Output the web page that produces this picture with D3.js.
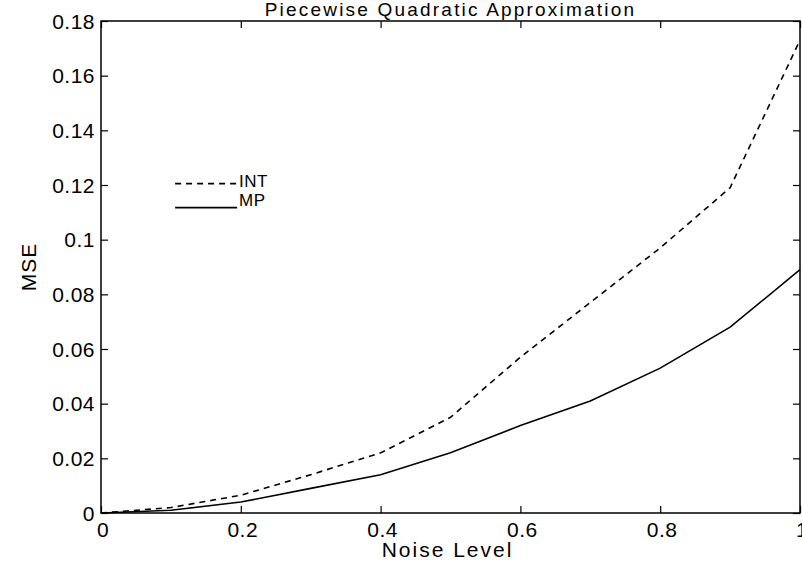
<!DOCTYPE html>
<html>
<head>
<meta charset="utf-8">
<script src="https://cdn.jsdelivr.net/npm/d3@7"></script>
<style>
    body { margin: 0; background: #fff; }
    svg { display: block; font-family: Arial, "Liberation Sans", sans-serif; }
    .frame { fill: none; stroke: #000; stroke-width: 1.5; }
    .tick-mark { stroke: #000; stroke-width: 1.2; }
    .line { fill: none; stroke: #000; stroke-width: 1.6; }
    .line.int { stroke-dasharray: 6 5; }
    text { fill: #000; }
</style>
</head>
<body>
<div id="chart"></div>
<script>
(function () {'use strict';

// Data
var noiseLevels = [0, 0.1, 0.2, 0.3, 0.4, 0.5, 0.6, 0.7, 0.8, 0.9, 1.0];
var mseInt      = [0, 0.002, 0.0065, 0.014, 0.022, 0.035, 0.057, 0.077, 0.097, 0.119, 0.173];
var mseMp       = [0, 0.001, 0.004, 0.009, 0.014, 0.022, 0.032, 0.041, 0.053, 0.068, 0.089];
var xTicks      = [0, 0.2, 0.4, 0.6, 0.8, 1];
var yTicks      = [0, 0.02, 0.04, 0.06, 0.08, 0.1, 0.12, 0.14, 0.16, 0.18];
var seriesNames = ['INT', 'MP'];

var W = 802, H = 570;
var margin = { top: 21, right: 2, bottom: 57, left: 101 },
    width  = W - margin.left - margin.right,
    height = H - margin.top - margin.bottom,
    tickLen = 7;

var x = d3.scaleLinear().domain([0, 1]).range([0, width]),
    y = d3.scaleLinear().domain([0, 0.18]).range([height, 0]);

var svg = d3.select('#chart')
    .append('svg')
        .attr('width', W)
        .attr('height', H);

var chart = svg.append('g')
    .attr('transform', 'translate(' + margin.left + ',' + margin.top + ')');

/*
 * FRAME + TICKS (inward, all four sides)
 */
chart.append('rect')
    .attr('class', 'frame')
    .attr('x', 0)
    .attr('y', 0)
    .attr('width', width)
    .attr('height', height);

chart.append('g')
    .attr('transform', 'translate(0,' + height + ')')
    .call(d3.axisBottom(x).tickValues(xTicks).tickSize(-tickLen).tickFormat(''))
    .call(cleanAxis);
chart.append('g')
    .call(d3.axisTop(x).tickValues(xTicks).tickSize(-tickLen).tickFormat(''))
    .call(cleanAxis);
chart.append('g')
    .call(d3.axisLeft(y).tickValues(yTicks).tickSize(-tickLen).tickFormat(''))
    .call(cleanAxis);
chart.append('g')
    .attr('transform', 'translate(' + width + ',0)')
    .call(d3.axisRight(y).tickValues(yTicks).tickSize(-tickLen).tickFormat(''))
    .call(cleanAxis);

function cleanAxis(g) {
    g.select('.domain').remove();
    g.selectAll('line').attr('class', 'tick-mark');
}

// tick labels
chart.selectAll('.xlabel')
    .data(xTicks)
    .enter().append('text')
        .attr('class', 'xlabel')
        .attr('x', function (d) { return x(d) + 2; })
        .attr('y', height + 24)
        .attr('text-anchor', 'middle')
        .style('font-size', '21px')
        .style('letter-spacing', '0.5px')
        .text(function (d) { return d3.format('~g')(d); });

chart.selectAll('.ylabel')
    .data(yTicks)
    .enter().append('text')
        .attr('class', 'ylabel')
        .attr('x', -6)
        .attr('y', function (d) { return y(d); })
        .attr('dy', '0.36em')
        .attr('text-anchor', 'end')
        .style('font-size', '21px')
        .style('letter-spacing', '0.5px')
        .text(function (d) { return d3.format('~g')(d); });

/*
 * TITLES
 */
svg.append('text')
    .attr('x', margin.left + width / 2)
    .attr('y', 16)
    .attr('text-anchor', 'middle')
    .style('font-size', '19px')
    .style('letter-spacing', '2.2px')
    .text('Piecewise Quadratic Approximation');

svg.append('text')
    .attr('x', margin.left + width / 2 - 3)
    .attr('y', H - 13)
    .attr('text-anchor', 'middle')
    .style('font-size', '21px')
    .style('letter-spacing', '2px')
    .text('Noise Level');

svg.append('text')
    .attr('transform', 'translate(36,' + (margin.top + height / 2) + ') rotate(-90)')
    .attr('text-anchor', 'middle')
    .style('font-size', '21px')
    .style('letter-spacing', '1px')
    .text('MSE');

/*
 * LINES
 */
var line = d3.line()
    .x(function (d) { return x(d[0]); })
    .y(function (d) { return y(d[1]); });

chart.append('path')
    .attr('class', 'line int')
    .attr('d', line(d3.zip(noiseLevels, mseInt)));

chart.append('path')
    .attr('class', 'line mp')
    .attr('d', line(d3.zip(noiseLevels, mseMp)));

/*
 * LEGEND
 */
var legend = chart.append('g')
    .attr('transform', 'translate(' + x(0.106) + ',' + y(0.1205) + ')');

legend.selectAll('line')
    .data(seriesNames)
    .enter().append('line')
        .attr('class', function (d, i) { return i === 0 ? 'line int' : 'line mp'; })
        .attr('x1', 0)
        .attr('x2', 62)
        .attr('y1', function (d, i) { return i * 24; })
        .attr('y2', function (d, i) { return i * 24; });

legend.selectAll('text')
    .data(seriesNames)
    .enter().append('text')
        .attr('x', 64)
        .attr('y', function (d, i) { return i * 24 + 3 - i * 5; })
        .style('font-size', '17px')
        .style('letter-spacing', '0.5px')
        .text(function (d) { return d; });

})();
</script>
</body>
</html>
